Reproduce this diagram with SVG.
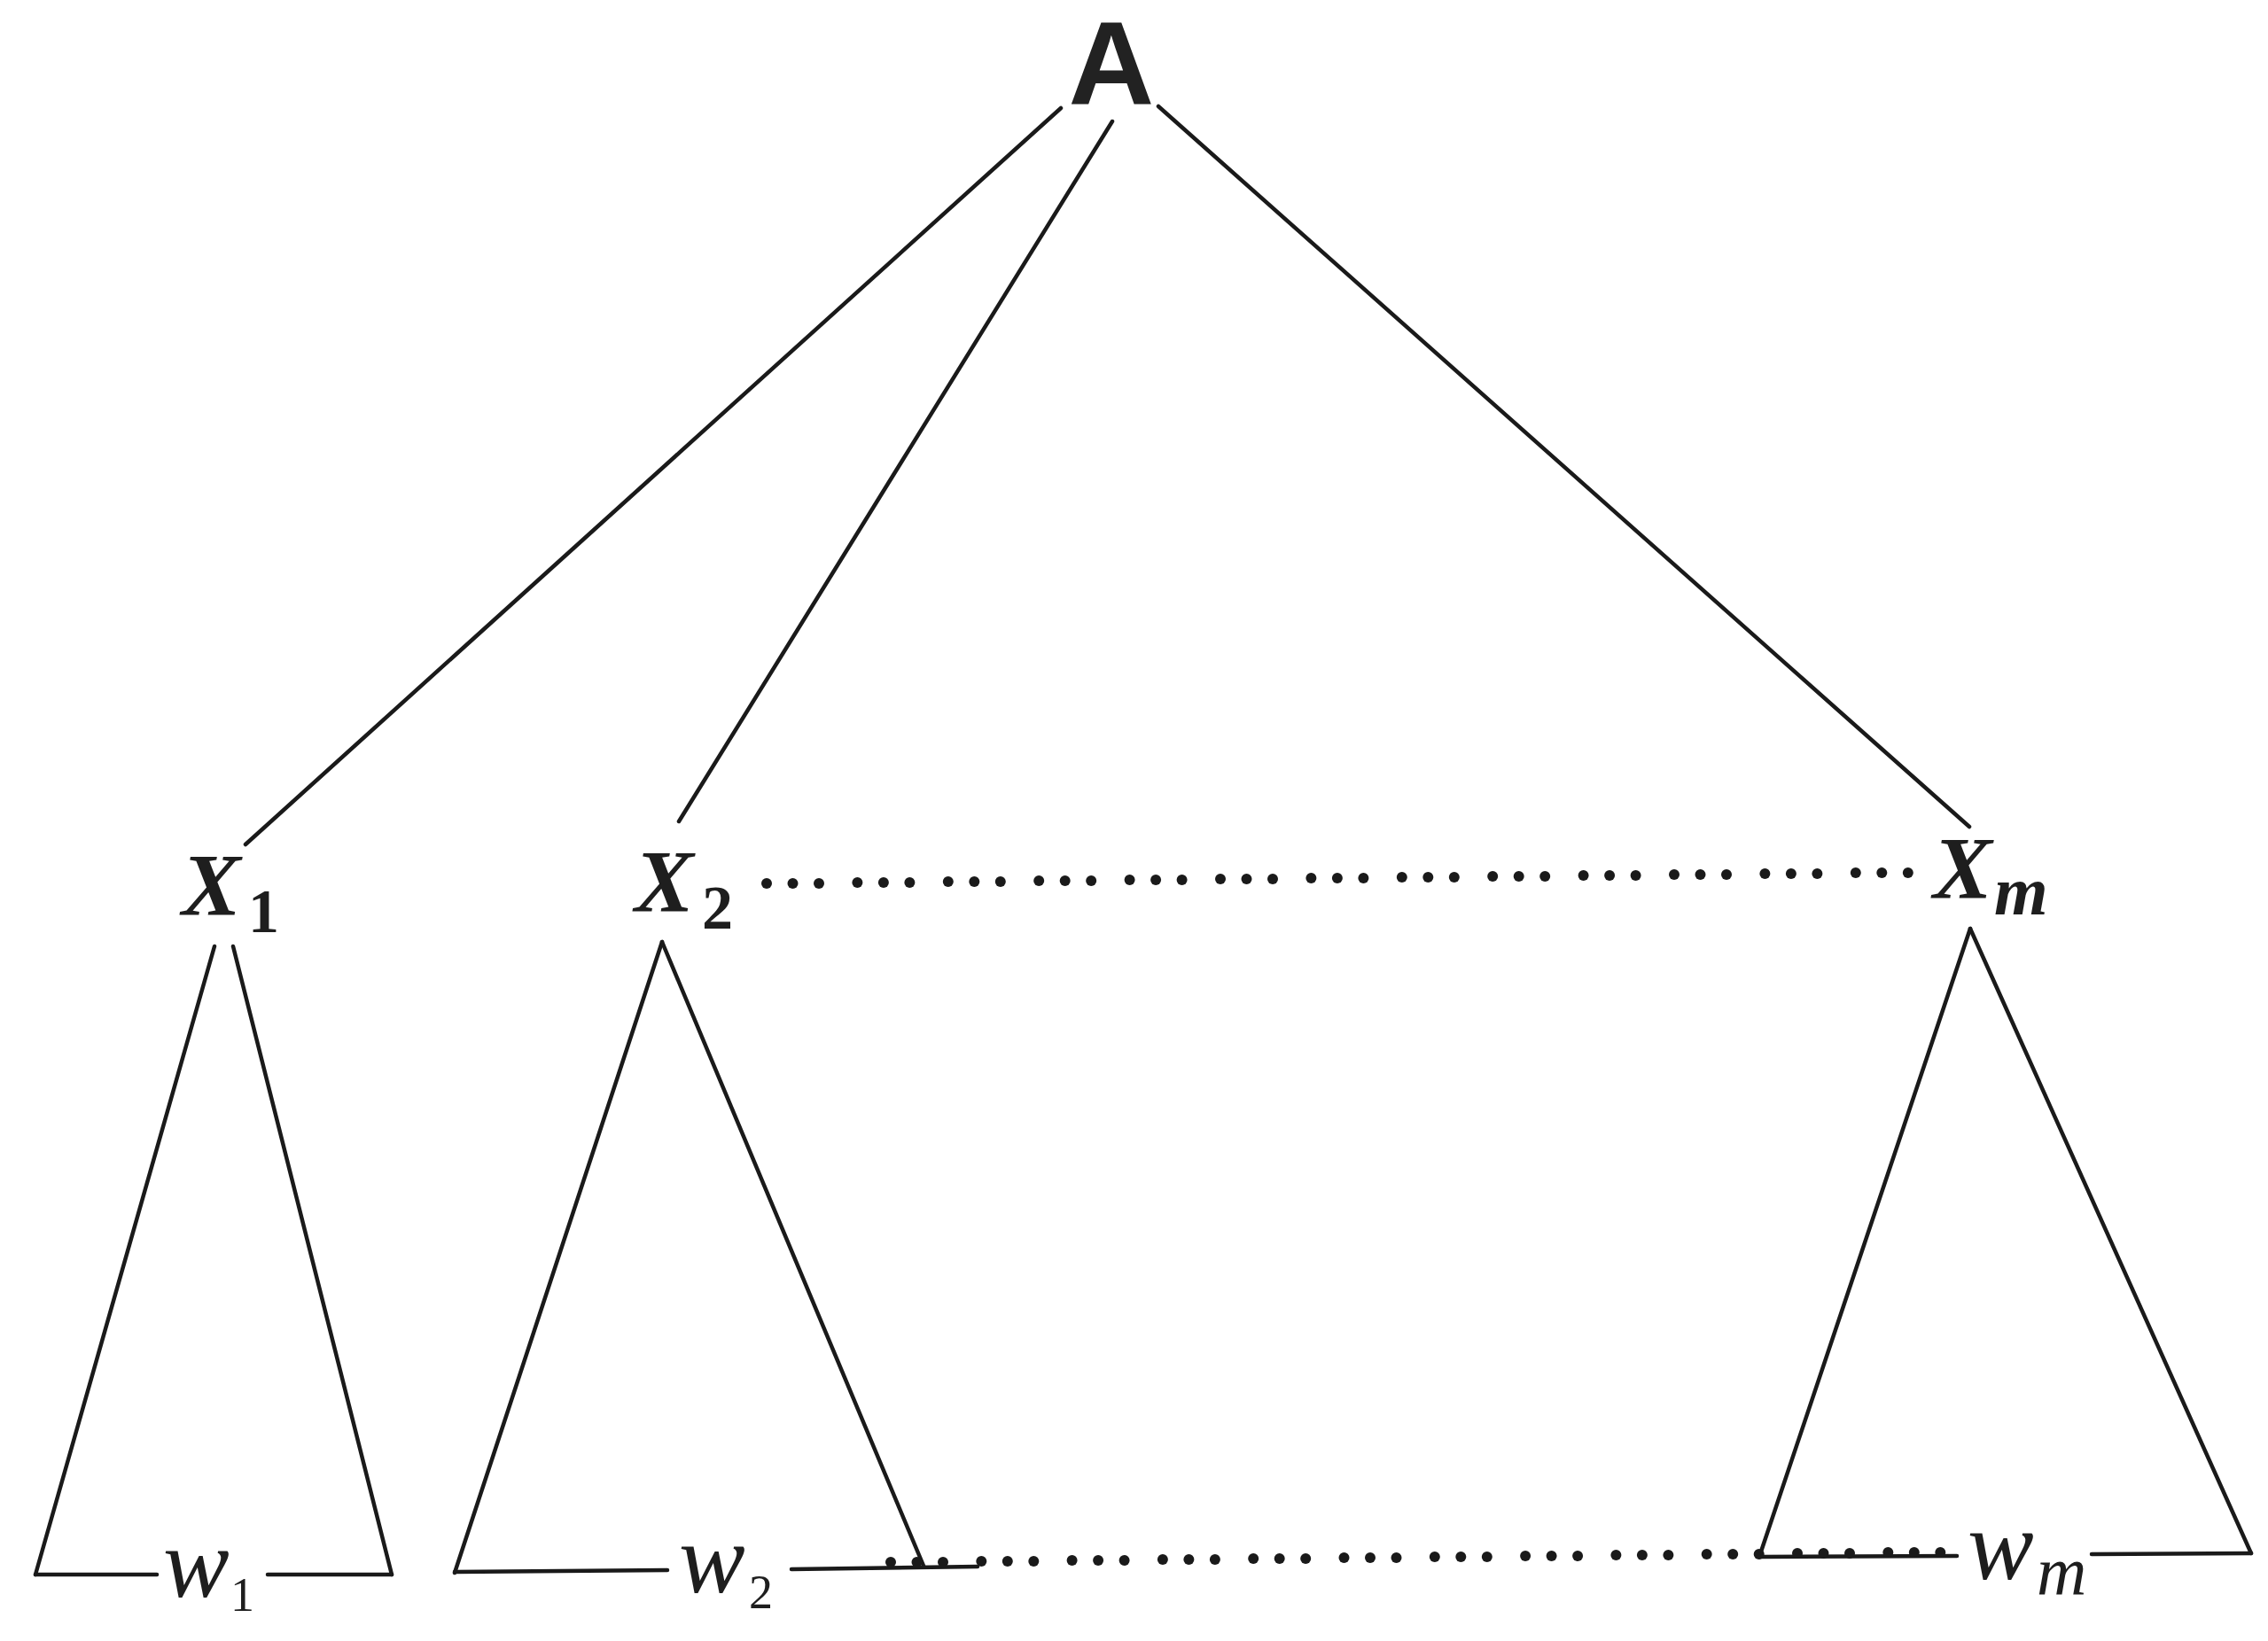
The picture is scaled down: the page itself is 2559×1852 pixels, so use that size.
<svg xmlns="http://www.w3.org/2000/svg" xmlns:xlink="http://www.w3.org/1999/xlink" width="2559" height="1852" viewBox="0 0 2559 1852">
<style>
  .ln { stroke: #1a1a1a; stroke-width: 4.5; fill: none; stroke-linecap: round; }
  .dot { fill: #1a1a1a; }
  .A { font-family: "Liberation Sans", Arial, sans-serif; font-weight: bold; font-size: 134px; fill: #222; }
  .X { font-family: "Liberation Serif", "Times New Roman", serif; font-weight: bold; font-style: italic; font-size: 100px; fill: #1e1e1e; }
  .Xsub { font-family: "Liberation Serif", "Times New Roman", serif; font-weight: bold; font-size: 70px; fill: #1e1e1e; }
  .Xsubi { font-family: "Liberation Serif", "Times New Roman", serif; font-weight: bold; font-style: italic; font-size: 78px; fill: #1e1e1e; }
  .w { font-family: "Liberation Serif", "Times New Roman", serif; font-style: italic; font-size: 112px; fill: #1e1e1e; }
  .wsub { font-family: "Liberation Serif", "Times New Roman", serif; font-size: 54px; fill: #1e1e1e; }
  .wsubi { font-family: "Liberation Serif", "Times New Roman", serif; font-style: italic; font-size: 78px; fill: #1e1e1e; }
</style>
<defs>
  <g id="ell" class="dot">
    <circle cx="0" cy="0" r="6"/>
    <circle cx="29.5" cy="0" r="6"/>
    <circle cx="59" cy="0" r="6"/>
  </g>
</defs>
<rect x="0" y="0" width="2559" height="1852" fill="#ffffff"/>

<g id="connectors">
  <line class="ln" x1="1197" y1="122" x2="277" y2="953"/>
  <line class="ln" x1="1255" y1="137" x2="766" y2="927"/>
  <line class="ln" x1="1307" y1="120" x2="2222" y2="933"/>
</g>

<g id="node-A">
  <text class="A" x="1254" y="118" text-anchor="middle">A</text>
</g>

<g id="node-X1">
  <text class="X" x="205" y="1032">X</text>
  <text class="Xsub" x="280" y="1052">1</text>
</g>

<g id="node-X2">
  <text class="X" x="716" y="1028">X</text>
  <text class="Xsub" x="792" y="1048">2</text>
</g>

<g id="node-Xm">
  <text class="X" x="2181" y="1013">X</text>
  <text class="Xsubi" x="2250" y="1032">m</text>
</g>

<g id="subtree-X1">
  <line class="ln" x1="242" y1="1068" x2="40" y2="1777"/>
  <line class="ln" x1="263" y1="1068" x2="442" y2="1777"/>
  <line class="ln" x1="40" y1="1777" x2="177" y2="1777"/>
  <line class="ln" x1="302" y1="1777" x2="442" y2="1777"/>
  <text class="w" x="184" y="1802">w</text>
  <text class="wsub" x="260" y="1818">1</text>
</g>

<g id="subtree-X2">
  <line class="ln" x1="747" y1="1063" x2="513" y2="1775"/>
  <line class="ln" x1="747" y1="1063" x2="1042" y2="1767"/>
  <line class="ln" x1="513" y1="1774" x2="753" y2="1772"/>
  <line class="ln" x1="893" y1="1771" x2="1103" y2="1768"/>
  <text class="w" x="766" y="1797">w</text>
  <text class="wsub" x="845" y="1815">2</text>
</g>

<g id="subtree-Xm">
  <line class="ln" x1="2223" y1="1048" x2="1985" y2="1757"/>
  <line class="ln" x1="2223" y1="1048" x2="2540" y2="1753"/>
  <line class="ln" x1="1985" y1="1757" x2="2208" y2="1756"/>
  <line class="ln" x1="2360" y1="1754" x2="2540" y2="1753"/>
  <text class="w" x="2220" y="1782">w</text>
  <text class="wsubi" x="2298" y="1800">m</text>
</g>

<g id="dots-top">
  <use xlink:href="#ell" x="865" y="997"/>
  <use xlink:href="#ell" x="967.4" y="996"/>
  <use xlink:href="#ell" x="1069.8" y="995"/>
  <use xlink:href="#ell" x="1172.2" y="994"/>
  <use xlink:href="#ell" x="1274.6" y="993"/>
  <use xlink:href="#ell" x="1377" y="992"/>
  <use xlink:href="#ell" x="1479.4" y="991"/>
  <use xlink:href="#ell" x="1581.8" y="990"/>
  <use xlink:href="#ell" x="1684.2" y="989"/>
  <use xlink:href="#ell" x="1786.6" y="988"/>
  <use xlink:href="#ell" x="1889" y="987"/>
  <use xlink:href="#ell" x="1991.4" y="986"/>
  <use xlink:href="#ell" x="2093.8" y="985"/>
</g>

<g id="dots-bottom">
  <use xlink:href="#ell" x="1005" y="1763"/>
  <use xlink:href="#ell" x="1107.3" y="1762"/>
  <use xlink:href="#ell" x="1209.6" y="1761"/>
  <use xlink:href="#ell" x="1311.9" y="1760"/>
  <use xlink:href="#ell" x="1414.2" y="1759"/>
  <use xlink:href="#ell" x="1516.5" y="1758"/>
  <use xlink:href="#ell" x="1618.8" y="1757"/>
  <use xlink:href="#ell" x="1721.1" y="1756"/>
  <use xlink:href="#ell" x="1823.4" y="1755"/>
  <use xlink:href="#ell" x="1925.7" y="1754"/>
  <use xlink:href="#ell" x="2028" y="1753"/>
  <use xlink:href="#ell" x="2130.3" y="1752"/>
</g>
</svg>
